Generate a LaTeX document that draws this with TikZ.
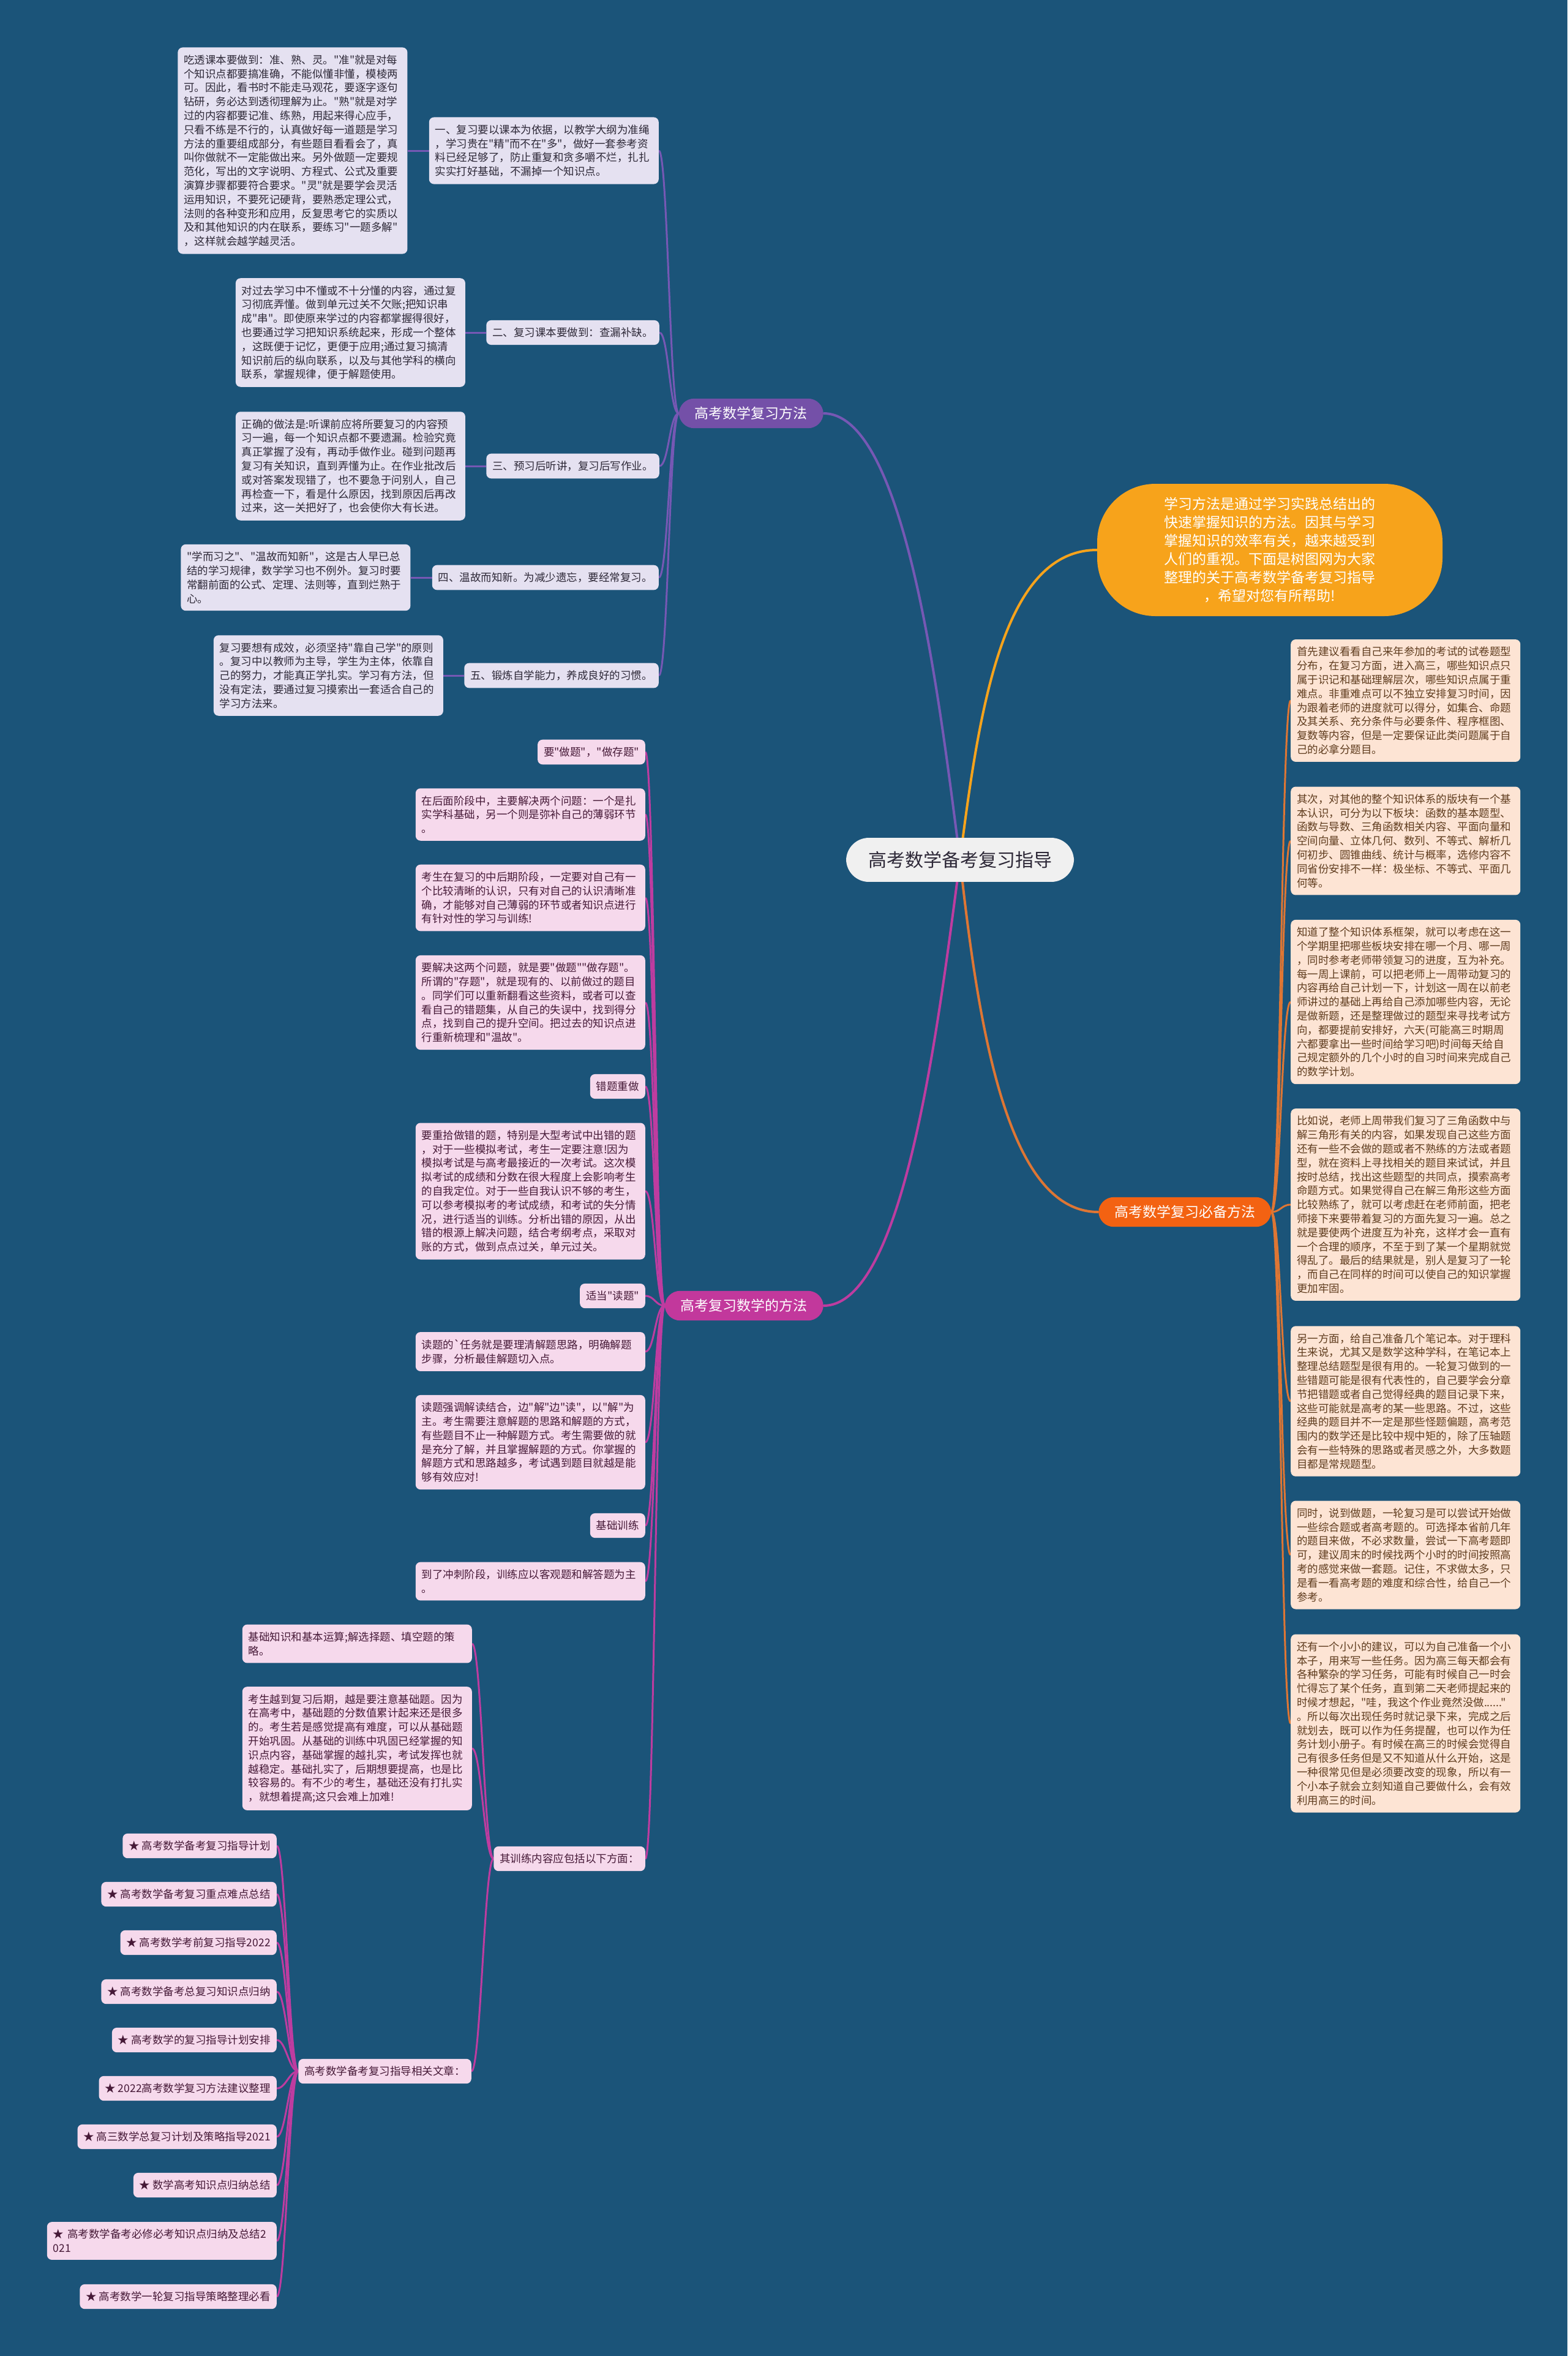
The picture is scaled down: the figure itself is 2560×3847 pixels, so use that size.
\documentclass[tikz,border=0pt]{standalone}
\usepackage{fontspec}
\setmainfont{Noto Sans CJK SC}[Ligatures=TeXOff]
\usetikzlibrary{positioning}
\usetikzlibrary{calc}
\pgfdeclarelayer{background}
\pgfsetlayers{background,main}

\definecolor{cBg}{RGB}{27,84,121}
\definecolor{cRoot}{RGB}{240,240,240}
\definecolor{cIntro}{RGB}{247,163,27}
\definecolor{cPurp}{RGB}{116,80,168}
\definecolor{cPurpLine}{RGB}{118,88,180}
\definecolor{cPurpLeaf}{RGB}{229,225,241}
\definecolor{cMag}{RGB}{194,56,156}
\definecolor{cMagLine}{RGB}{190,60,160}
\definecolor{cMagLeaf}{RGB}{246,217,236}
\definecolor{cOr}{RGB}{243,98,18}
\definecolor{cOrLine}{RGB}{222,118,52}
\definecolor{cOrLeaf}{RGB}{253,228,212}
\definecolor{cDark}{RGB}{45,40,55}
\definecolor{cMagText}{RGB}{70,25,55}
\definecolor{cBrown}{RGB}{95,60,30}

\tikzset{
  leaf/.style={rounded corners=8pt, inner xsep=10pt, inner ysep=12pt, align=left,
    font=\fontsize{17.5}{22.8}\selectfont},
  block/.style={text width=355pt},
  pleaf/.style={leaf, fill=cPurpLeaf, text=cDark},
  mleaf/.style={leaf, fill=cMagLeaf, text=cMagText},
  oleaf/.style={leaf, fill=cOrLeaf, text=cBrown},
  branch/.style={rounded corners=25pt, inner xsep=26pt, inner ysep=13.5pt, text=white,
    font=\fontsize{23}{28}\selectfont},
  link/.style={line width=3pt, to path={.. controls +(15,0) and +(-15,0) .. (\tikztotarget)}}
}

\begin{document}
\begin{tikzpicture}[x=1pt, y=-1pt]

\begin{pgfonlayer}{background}
\fill[cBg] (0,0) rectangle (2560,3847);
\end{pgfonlayer}

\node [fill=cRoot, text=cDark, rounded corners=37pt, inner xsep=36pt, inner ysep=22pt,
  font=\fontsize{30}{36}\selectfont] (root) at (1568,1404) {高考数学备考复习指导};

\node [fill=cIntro, text=white, rounded corners=95pt, minimum width=564pt, minimum height=216pt,
  align=center, font=\fontsize{23}{30}\selectfont] (intro) at (2074,898)
  {学习方法是通过学习实践总结出的\\快速掌握知识的方法。因其与学习\\掌握知识的效率有关，越来越受到\\人们的重视。下面是树图网为大家\\整理的关于高考数学备考复习指导\\，希望对您有所帮助!};

\node [branch, fill=cPurp, anchor=east] (rev) at (1345,675) {高考数学复习方法};
\node [branch, fill=cMag, anchor=east] (how) at (1345,2132) {高考复习数学的方法};
\node [branch, fill=cOr, anchor=west] (must) at (1794,1979) {高考数学复习必备方法};

\node [pleaf, block, anchor=east] (rev1) at (1076,246)
  {一、复习要以课本为依据，以教学大纲为准绳\\，学习贵在"精"而不在"多"，做好一套参考资\\料已经足够了，防止重复和贪多嚼不烂，扎扎\\实实打好基础，不漏掉一个知识点。};
\node [pleaf, block, left=35pt of rev1] (revt1)
  {吃透课本要做到：准、熟、灵。"准"就是对每\\个知识点都要搞准确，不能似懂非懂，模棱两\\可。因此，看书时不能走马观花，要逐字逐句\\钻研，务必达到透彻理解为止。"熟"就是对学\\过的内容都要记准、练熟，用起来得心应手，\\只看不练是不行的，认真做好每一道题是学习\\方法的重要组成部分，有些题目看看会了，真\\叫你做就不一定能做出来。另外做题一定要规\\范化，写出的文字说明、方程式、公式及重要\\演算步骤都要符合要求。"灵"就是要学会灵活\\运用知识，不要死记硬背，要熟悉定理公式，\\法则的各种变形和应用，反复思考它的实质以\\及和其他知识的内在联系，要练习"一题多解"\\，这样就会越学越灵活。};
\node [pleaf, anchor=east] (rev2) at (1077,543) {二、复习课本要做到：查漏补缺。};
\node [pleaf, block, left=34pt of rev2] (revt2)
  {对过去学习中不懂或不十分懂的内容，通过复\\习彻底弄懂。做到单元过关不欠账;把知识串\\成"串"。即使原来学过的内容都掌握得很好，\\也要通过学习把知识系统起来，形成一个整体\\，这既便于记忆，更便于应用;通过复习搞清\\知识前后的纵向联系，以及与其他学科的横向\\联系，掌握规律，便于解题使用。};
\node [pleaf, anchor=east] (rev3) at (1077,761) {三、预习后听讲，复习后写作业。};
\node [pleaf, block, left=34pt of rev3] (revt3)
  {正确的做法是:听课前应将所要复习的内容预\\习一遍，每一个知识点都不要遗漏。检验究竟\\真正掌握了没有，再动手做作业。碰到问题再\\复习有关知识，直到弄懂为止。在作业批改后\\或对答案发现错了，也不要急于问别人，自己\\再检查一下，看是什么原因，找到原因后再改\\过来，这一关把好了，也会使你大有长进。};
\node [pleaf, anchor=east] (rev4) at (1076,943) {四、温故而知新。为减少遗忘，要经常复习。};
\node [pleaf, block, left=35pt of rev4] (revt4)
  {"学而习之"、"温故而知新"，这是古人早已总\\结的学习规律，数学学习也不例外。复习时要\\常翻前面的公式、定理、法则等，直到烂熟于\\心。};
\node [pleaf, anchor=east] (rev5) at (1076,1103) {五、锻炼自学能力，养成良好的习惯。};
\node [pleaf, block, left=34pt of rev5] (revt5)
  {复习要想有成效，必须坚持"靠自己学"的原则\\。复习中以教师为主导，学生为主体，依靠自\\己的努力，才能真正学扎实。学习有方法，但\\没有定法，要通过复习摸索出一套适合自己的\\学习方法来。};

\node [mleaf, anchor=east] (how1) at (1054,1228) {要"做题"，"做存题"};
\node [mleaf, block, anchor=east] (how2) at (1054,1330)
  {在后面阶段中，主要解决两个问题：一个是扎\\实学科基础，另一个则是弥补自己的薄弱环节\\。};
\node [mleaf, block, anchor=east] (how3) at (1054,1466)
  {考生在复习的中后期阶段，一定要对自己有一\\个比较清晰的认识，只有对自己的认识清晰准\\确，才能够对自己薄弱的环节或者知识点进行\\有针对性的学习与训练!};
\node [mleaf, block, anchor=east] (how4) at (1054,1637)
  {要解决这两个问题，就是要"做题""做存题"。\\所谓的"存题"，就是现有的、以前做过的题目\\。同学们可以重新翻看这些资料，或者可以查\\看自己的错题集，从自己的失误中，找到得分\\点，找到自己的提升空间。把过去的知识点进\\行重新梳理和"温故"。};
\node [mleaf, anchor=east] (how5) at (1054,1774) {错题重做};
\node [mleaf, block, anchor=east] (how6) at (1054,1945)
  {要重拾做错的题，特别是大型考试中出错的题\\，对于一些模拟考试，考生一定要注意!因为\\模拟考试是与高考最接近的一次考试。这次模\\拟考试的成绩和分数在很大程度上会影响考生\\的自我定位。对于一些自我认识不够的考生，\\可以参考模拟考的考试成绩，和考试的失分情\\况，进行适当的训练。分析出错的原因，从出\\错的根源上解决问题，结合考纲考点，采取对\\账的方式，做到点点过关，单元过关。};
\node [mleaf, anchor=east] (how7) at (1054,2116) {适当"读题"};
\node [mleaf, block, anchor=east] (how8) at (1054,2207)
  {读题的\char96任务就是要理清解题思路，明确解题\\步骤，分析最佳解题切入点。};
\node [mleaf, block, anchor=east] (how9) at (1054,2355)
  {读题强调解读结合，边"解"边"读"，以"解"为\\主。考生需要注意解题的思路和解题的方式，\\有些题目不止一种解题方式。考生需要做的就\\是充分了解，并且掌握解题的方式。你掌握的\\解题方式和思路越多，考试遇到题目就越是能\\够有效应对!};
\node [mleaf, anchor=east] (how10) at (1054,2491) {基础训练};
\node [mleaf, block, anchor=east] (how11) at (1054,2582)
  {到了冲刺阶段，训练应以客观题和解答题为主\\。};
\node [mleaf, anchor=east] (how12) at (1054,3035) {其训练内容应包括以下方面：};

\node [mleaf, block, anchor=east] (base1) at (771,2684)
  {基础知识和基本运算;解选择题、填空题的策\\略。};
\node [mleaf, block, anchor=east] (base2) at (771,2855)
  {考生越到复习后期，越是要注意基础题。因为\\在高考中，基础题的分数值累计起来还是很多\\的。考生若是感觉提高有难度，可以从基础题\\开始巩固。从基础的训练中巩固已经掌握的知\\识点内容，基础掌握的越扎实，考试发挥也就\\越稳定。基础扎实了，后期想要提高，也是比\\较容易的。有不少的考生，基础还没有打扎实\\，就想着提高;这只会难上加难!};
\node [mleaf, anchor=east] (rel) at (770,3382) {高考数学备考复习指导相关文章：};

\node [mleaf, anchor=east] (art1) at (452,3014) {★ 高考数学备考复习指导计划};
\node [mleaf, anchor=east] (art2) at (452,3093) {★ 高考数学备考复习重点难点总结};
\node [mleaf, anchor=east] (art3) at (452,3172) {★ 高考数学考前复习指导2022};
\node [mleaf, anchor=east] (art4) at (452,3252) {★ 高考数学备考总复习知识点归纳};
\node [mleaf, anchor=east] (art5) at (452,3331) {★ 高考数学的复习指导计划安排};
\node [mleaf, anchor=east] (art6) at (452,3410) {★ 2022高考数学复习方法建议整理};
\node [mleaf, anchor=east] (art7) at (452,3489) {★ 高三数学总复习计划及策略指导2021};
\node [mleaf, anchor=east] (art8) at (452,3568) {★ 数学高考知识点归纳总结};
\node [mleaf, block, anchor=east] (art9) at (452,3659) {★ 高考数学备考必修必考知识点归纳及总结2\\021};
\node [mleaf, anchor=east] (art10) at (452,3750) {★ 高考数学一轮复习指导策略整理必看};

\node [oleaf, block, anchor=west] (must1) at (2108,1144)
  {首先建议看看自己来年参加的考试的试卷题型\\分布，在复习方面，进入高三，哪些知识点只\\属于识记和基础理解层次，哪些知识点属于重\\难点。非重难点可以不独立安排复习时间，因\\为跟着老师的进度就可以得分，如集合、命题\\及其关系、充分条件与必要条件、程序框图、\\复数等内容，但是一定要保证此类问题属于自\\己的必拿分题目。};
\node [oleaf, block, anchor=west] (must2) at (2108,1373)
  {其次，对其他的整个知识体系的版块有一个基\\本认识，可分为以下板块：函数的基本题型、\\函数与导数、三角函数相关内容、平面向量和\\空间向量、立体几何、数列、不等式、解析几\\何初步、圆锥曲线、统计与概率，选修内容不\\同省份安排不一样：极坐标、不等式、平面几\\何等。};
\node [oleaf, block, anchor=west] (must3) at (2108,1636)
  {知道了整个知识体系框架，就可以考虑在这一\\个学期里把哪些板块安排在哪一个月、哪一周\\，同时参考老师带领复习的进度，互为补充。\\每一周上课前，可以把老师上一周带动复习的\\内容再给自己计划一下，计划这一周在以前老\\师讲过的基础上再给自己添加哪些内容，无论\\是做新题，还是整理做过的题型来寻找考试方\\向，都要提前安排好，六天(可能高三时期周\\六都要拿出一些时间给学习吧)时间每天给自\\己规定额外的几个小时的自习时间来完成自己\\的数学计划。};
\node [oleaf, block, anchor=west] (must4) at (2108,1967)
  {比如说，老师上周带我们复习了三角函数中与\\解三角形有关的内容，如果发现自己这些方面\\还有一些不会做的题或者不熟练的方法或者题\\型，就在资料上寻找相关的题目来试试，并且\\按时总结，找出这些题型的共同点，摸索高考\\命题方式。如果觉得自己在解三角形这些方面\\比较熟练了，就可以考虑赶在老师前面，把老\\师接下来要带着复习的方面先复习一遍。总之\\就是要使两个进度互为补充，这样才会一直有\\一个合理的顺序，不至于到了某一个星期就觉\\得乱了。最后的结果就是，别人是复习了一轮\\，而自己在同样的时间可以使自己的知识掌握\\更加牢固。};
\node [oleaf, block, anchor=west] (must5) at (2108,2288)
  {另一方面，给自己准备几个笔记本。对于理科\\生来说，尤其又是数学这种学科，在笔记本上\\整理总结题型是很有用的。一轮复习做到的一\\些错题可能是很有代表性的，自己要学会分章\\节把错题或者自己觉得经典的题目记录下来，\\这些可能就是高考的某一些思路。不过，这些\\经典的题目并不一定是那些怪题偏题，高考范\\围内的数学还是比较中规中矩的，除了压轴题\\会有一些特殊的思路或者灵感之外，大多数题\\目都是常规题型。};
\node [oleaf, block, anchor=west] (must6) at (2108,2539)
  {同时，说到做题，一轮复习是可以尝试开始做\\一些综合题或者高考题的。可选择本省前几年\\的题目来做，不必求数量，尝试一下高考题即\\可，建议周末的时候找两个小时的时间按照高\\考的感觉来做一套题。记住，不求做太多，只\\是看一看高考题的难度和综合性，给自己一个\\参考。};
\node [oleaf, block, anchor=west] (must7) at (2108,2814)
  {还有一个小小的建议，可以为自己准备一个小\\本子，用来写一些任务。因为高三每天都会有\\各种繁杂的学习任务，可能有时候自己一时会\\忙得忘了某个任务，直到第二天老师提起来的\\时候才想起，"哇，我这个作业竟然没做......"\\。所以每次出现任务时就记录下来，完成之后\\就划去，既可以作为任务提醒，也可以作为任\\务计划小册子。有时候在高三的时候会觉得自\\己有很多任务但是又不知道从什么开始，这是\\一种很常见但是必须要改变的现象，所以有一\\个小本子就会立刻知道自己要做什么，会有效\\利用高三的时间。};

\begin{pgfonlayer}{background}
\draw [line width=4pt, cPurpLine] (rev.east) .. controls (1480,675) and (1535,1150) .. (root.center);
\draw [line width=4pt, cMagLine] (how.east) .. controls (1480,2132) and (1535,1650) .. (root.center);
\draw [line width=4pt, cIntro] (root.center) .. controls (1600,1150) and (1640,898) .. (intro.west);
\draw [line width=4pt, cOrLine] (root.center) .. controls (1600,1700) and (1650,1979) .. (must.west);
\foreach \n in {1,...,5} {
  \draw [link, cPurpLine] (rev\n.east) to (rev.west);
  \draw [link, cPurpLine] (revt\n.east) to (rev\n.west);
}
\foreach \n in {1,...,12}
  \draw [link, cMagLine] (how\n.east) to (how.west);
\foreach \n in {base1,base2,rel}
  \draw [link, cMagLine] (\n.east) to (how12.west);
\foreach \n in {1,...,10}
  \draw [link, cMagLine] (art\n.east) to (rel.west);
\foreach \n in {1,...,7}
  \draw [link, cOrLine] (must.east) to (must\n.west);
\end{pgfonlayer}

\end{tikzpicture}
\end{document}
